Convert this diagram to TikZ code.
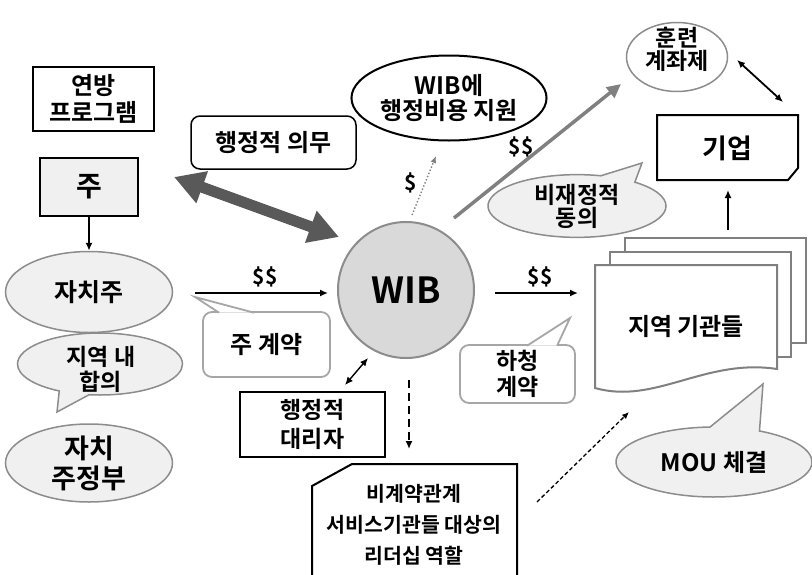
\documentclass[tikz,border=0pt]{standalone}
\usepackage{fontspec}
\setmainfont{Noto Sans CJK KR}[BoldFont={Noto Sans CJK KR Bold}]
\usetikzlibrary{arrows.meta,shapes.geometric,shapes.callouts,calc}
\definecolor{lightfill}{HTML}{F0F0F0}
\definecolor{wibfill}{HTML}{D9D9D9}
\definecolor{edgegray}{HTML}{8C8C8C}
\definecolor{softgray}{HTML}{A6A6A6}
\definecolor{darkarrow}{HTML}{595959}
\definecolor{midgray}{HTML}{808080}

\begin{document}
\begin{tikzpicture}[x=1pt,y=-1pt,
  every node/.style={align=center, inner sep=0pt},
  fsz/.style 2 args={font=\fontsize{#1}{#2}\selectfont\bfseries},
  blackbox/.style={draw=black, line width=2pt, fill=white},
  greyellipse/.style={ellipse, draw=edgegray, line width=1.5pt, fill=lightfill},
  bubble/.style={ellipse callout, draw=edgegray, line width=1.5pt, fill=lightfill},
  callbox/.style={rounded corners=9pt, draw=softgray, line width=1.8pt, fill=white},
  calltail/.style={draw=softgray, line width=1.8pt, fill=white},
  docline/.style={draw=midgray, line width=2pt, fill=white},
  arr/.style={-{Latex[length=8pt,width=7pt]}, line width=1.6pt},
  dblarr/.style={{Latex[length=8pt,width=7pt]}-{Latex[length=8pt,width=7pt]}, line width=1.4pt},
  money/.style={fsz={21}{24}},
]
\useasboundingbox (0,0) rectangle (812,574);

% ---------- left column ----------
\node[blackbox, minimum width=121pt, minimum height=64pt, fsz={24}{27}] (fed) at (93.5,99) {연방\\프로그램};
\node[blackbox, fill=lightfill, minimum width=98pt, minimum height=58pt, fsz={28}{30}] (ju) at (89,187) {주};
\node[greyellipse, minimum width=167pt, minimum height=81pt, fsz={25}{28}] (jachiju) at (89,292) {자치주};
\node[bubble, minimum width=165pt, minimum height=62pt, callout absolute pointer={(57,412)}, callout pointer arc=22] (hapui) at (100,364) {};
\node[fsz={23}{25}] (hapuitext) at (101,369) {지역 내\\합의};
\node[greyellipse, minimum width=167pt, minimum height=78pt, fsz={27}{30}] (jeongbu) at (89,463) {자치\\주정부};

% ---------- administrative duty ----------
\node[draw=black, line width=1.5pt, rounded corners=9pt, fill=white, minimum width=165pt, minimum height=53pt, fsz={24}{28}] (uimu) at (273.5,142.5) {행정적 의무};
\coordinate (bigA) at (174,177);
\coordinate (bigB) at (339,237);
\draw[darkarrow, line width=11pt, {Triangle[length=30pt,width=32pt]}-{Triangle[length=30pt,width=32pt]}] (bigA) -- (bigB);

% ---------- WIB ----------
\node[circle, draw=edgegray, line width=2pt, fill=wibfill, minimum size=136pt, fsz={36}{40}] (wib) at (406,290) {WIB};

% state contract
\coordinate (c1s) at (195,293);
\coordinate (c1e) at (328,293);
\draw[arr] (c1s) -- (c1e);
\node[money] (dd1) at (265,277) {\$\$};
\node[callbox, minimum width=127pt, minimum height=65pt, fsz={24}{28}] (jukye) at (266.5,344.5) {주 계약};
\coordinate (jukyetip) at (195,297);
\filldraw[calltail] ($(jukye.north west)+(17,1.6)$) -- (jukyetip) -- ($(jukye.north west)+(52,1.6)$);

% administrative agent
\node[blackbox, minimum width=145pt, minimum height=65pt, fsz={23}{29}] (daeri) at (312.5,424.5) {행정적\\대리자};
\coordinate (d1) at (345,385);
\coordinate (d2) at (368,358);
\draw[dblarr] (d1) -- (d2);

% non-contract leadership
\coordinate (w1) at (409,380);
\coordinate (w2) at (409,449);
\draw[arr, dash pattern=on 8pt off 5pt] (w1) -- (w2);
\draw[line width=2pt, fill=white] (312,486) -- (352,464) -- (517,464) -- (517,580) -- (312,580) -- cycle;
\node[fsz={20.5}{31}] (ncl) at (414,525) {비계약관계\\서비스기관들 대상의\\리더십 역할};

% admin cost support
\node[ellipse, draw=black, line width=2pt, fill=white, minimum width=162pt, minimum height=85pt, fsz={24}{25}] (cost) at (449,98) {WIB에\\행정비용 지원};
\coordinate (s1) at (412,215);
\coordinate (s2) at (436,156);
\draw[-{Latex[length=7pt,width=6pt]}, midgray, line width=1.4pt, dotted] (s1) -- (s2);
\node[money] (d0) at (411,183) {\$};

% training accounts
\coordinate (g1) at (454,218);
\coordinate (g2) at (621,84);
\draw[midgray, line width=3.5pt, -{Triangle[length=14pt,width=13pt]}] (g1) -- (g2);
\node[money] (dd2) at (521,147) {\$\$};
\node[ellipse, draw=edgegray, line width=1.5pt, fill=white, minimum width=101pt, minimum height=69pt] (hunryeon) at (677,57) {};
\node[fsz={23}{23}] (hunryeontext) at (677,49) {훈련\\계좌제};

% business
\draw[line width=2pt, fill=white] (657,115) -- (798,115) -- (798,168) -- (788,180) -- (657,180) -- cycle;
\node[fsz={27}{30}] (giup) at (727,148) {기업};
\coordinate (h1) at (737,60);
\coordinate (h2) at (783,102);
\draw[dblarr, line width=1.8pt] (h1) -- (h2);
\node[bubble, minimum width=178pt, minimum height=56pt, callout absolute pointer={(642,163)}, callout pointer arc=25, fsz={23}{23}] (bijae) at (577,206) {비재정적\\동의};

% local agencies
\coordinate (r1) at (495,293);
\coordinate (r2) at (578,293);
\draw[arr] (r1) -- (r2);
\node[money] (dd3) at (540,277) {\$\$};
\draw[docline] (625,238) rectangle (806,343);
\draw[docline] (610,252) rectangle (791,357);
\draw[docline] (595,265) -- (777,265) -- (777,369) .. controls (705,358) and (655,405) .. (595,388) -- cycle;
\node[fsz={24}{28}] (agencies) at (686,327) {지역 기관들};
\coordinate (u1) at (728,230);
\coordinate (u2) at (728,190);
\draw[arr] (u1) -- (u2);

% subcontract
\node[callbox, minimum width=115pt, minimum height=58pt, fsz={23}{26}] (hacheong) at (517.5,374) {하청\\계약};
\coordinate (hatip) at (570,318);
\filldraw[calltail] ($(hacheong.north west)+(68,1.6)$) -- (hatip) -- ($(hacheong.north west)+(98,1.6)$);

% MOU
\node[bubble, minimum width=196pt, minimum height=70pt, callout absolute pointer={(763,384)}, callout pointer arc=30, fsz={24}{28}] (mou) at (714,462) {MOU 체결};
\coordinate (m1) at (537,502);
\coordinate (m2) at (629,412);
\draw[-{Latex[length=7pt,width=6pt]}, line width=1.3pt, dash pattern=on 4pt off 2.5pt] (m1) -- (m2);

% arrow from state to county
\draw[arr] (ju.south) -- (jachiju.north);
\end{tikzpicture}
\end{document}
